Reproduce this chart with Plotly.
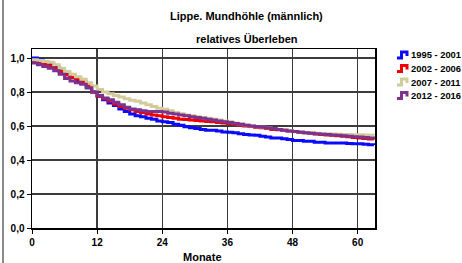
import plotly.graph_objects as go

months = list(range(64))

s_1995_2001 = [1.0, 0.99, 0.975, 0.965, 0.945, 0.925, 0.905, 0.885, 0.865, 0.85,
               0.825, 0.80, 0.775, 0.755, 0.735, 0.72, 0.70, 0.685, 0.67, 0.66,
               0.655, 0.645, 0.64, 0.63, 0.625, 0.62, 0.61, 0.605, 0.595, 0.59,
               0.585, 0.58, 0.575, 0.575, 0.57, 0.565, 0.563, 0.56, 0.555, 0.55,
               0.547, 0.545, 0.54, 0.535, 0.53, 0.53, 0.525, 0.52, 0.515, 0.515,
               0.51, 0.51, 0.505, 0.505, 0.50, 0.50, 0.50, 0.50, 0.497, 0.495,
               0.495, 0.492, 0.49, 0.488]
s_2002_2006 = [0.98, 0.975, 0.965, 0.955, 0.94, 0.92, 0.90, 0.885, 0.875, 0.86,
               0.835, 0.80, 0.775, 0.76, 0.745, 0.73, 0.715, 0.705, 0.695, 0.685,
               0.68, 0.67, 0.665, 0.66, 0.655, 0.65, 0.645, 0.64, 0.638, 0.635,
               0.632, 0.63, 0.627, 0.625, 0.62, 0.618, 0.615, 0.61, 0.605, 0.60,
               0.597, 0.593, 0.59, 0.585, 0.58, 0.578, 0.575, 0.57, 0.567, 0.563,
               0.56, 0.557, 0.553, 0.55, 0.547, 0.545, 0.542, 0.54, 0.537, 0.533,
               0.53, 0.527, 0.524, 0.52]
s_2007_2011 = [0.99, 0.985, 0.98, 0.975, 0.96, 0.94, 0.92, 0.905, 0.89, 0.875,
               0.855, 0.835, 0.815, 0.80, 0.79, 0.78, 0.77, 0.76, 0.752, 0.745,
               0.735, 0.725, 0.715, 0.705, 0.698, 0.69, 0.68, 0.672, 0.665, 0.66,
               0.655, 0.65, 0.645, 0.64, 0.635, 0.63, 0.625, 0.618, 0.612, 0.606,
               0.60, 0.597, 0.593, 0.59, 0.585, 0.58, 0.577, 0.572, 0.568, 0.565,
               0.562, 0.56, 0.558, 0.556, 0.555, 0.553, 0.552, 0.55, 0.55, 0.549,
               0.548, 0.547, 0.546, 0.545]
s_2012_2016 = [0.97, 0.96, 0.95, 0.94, 0.925, 0.905, 0.88, 0.865, 0.855, 0.845,
               0.825, 0.80, 0.78, 0.765, 0.755, 0.74, 0.725, 0.71, 0.70, 0.695,
               0.69, 0.685, 0.685, 0.685, 0.683, 0.675, 0.67, 0.665, 0.66, 0.655,
               0.65, 0.645, 0.64, 0.635, 0.63, 0.625, 0.62, 0.615, 0.61, 0.605,
               0.60, 0.597, 0.593, 0.59, 0.585, 0.58, 0.575, 0.57, 0.567, 0.563,
               0.56, 0.557, 0.555, 0.552, 0.55, 0.547, 0.545, 0.542, 0.54, 0.537,
               0.535, 0.532, 0.53, 0.527]

series_names = ["1995 - 2001", "2002 - 2006", "2007 - 2011", "2012 - 2016"]
series_values = [s_1995_2001, s_2002_2006, s_2007_2011, s_2012_2016]
series_colors = ["#0a0aff", "#f00000", "#d2cb9a", "#7e3290"]

x_ticks = [0, 12, 24, 36, 48, 60]
y_ticks = [0.0, 0.2, 0.4, 0.6, 0.8, 1.0]

W, H = 462, 263
L, R, T, B = 32, 87, 49, 35
PW = W - L - R
PH = H - T - B


def px(x):
    return (x - L) / PW


def py(y):
    return (H - B - y) / PH


FONT = "Liberation Sans, Arial, sans-serif"

fig = go.Figure()
for name, vals, col in zip(series_names, series_values, series_colors):
    fig.add_trace(go.Scatter(
        x=months, y=vals, mode="lines", name=name,
        line=dict(color=col, width=3, shape="hv"),
        showlegend=False, hoverinfo="skip"))

annotations = []
shapes = []
# titles
annotations.append(dict(text="<b>Lippe. Mundhöhle (männlich)</b>", x=px(247), y=py(16),
                        xref="paper", yref="paper", showarrow=False,
                        xanchor="center", yanchor="middle",
                        font=dict(family=FONT, size=11, color="black")))
annotations.append(dict(text="<b>relatives Überleben</b>", x=px(247), y=py(39),
                        xref="paper", yref="paper", showarrow=False,
                        xanchor="center", yanchor="middle",
                        font=dict(family=FONT, size=11, color="black")))
annotations.append(dict(text="<b>Monate</b>", x=px(202), y=py(257),
                        xref="paper", yref="paper", showarrow=False,
                        xanchor="center", yanchor="middle",
                        font=dict(family=FONT, size=11, color="black")))

# legend
leg_y = [55, 68.5, 82, 95.5]
for name, col, ly in zip(series_names, series_colors, leg_y):
    annotations.append(dict(text="<b>" + name + "</b>", x=px(409), y=py(ly),
                            xref="paper", yref="paper", showarrow=False,
                            xanchor="left", yanchor="middle",
                            font=dict(family=FONT, size=9.4, color="black")))
    path = "M{},{} L{},{} L{},{} L{},{} L{},{}".format(
        px(397), py(ly + 3), px(401.5), py(ly + 3), px(401.5), py(ly - 3),
        px(407), py(ly - 3), px(407), py(ly + 1))
    shapes.append(dict(type="path", path=path, xref="paper", yref="paper",
                       line=dict(color=col, width=3)))

# left frame line
shapes.append(dict(type="line", x0=px(3), x1=px(3), y0=py(0), y1=py(263),
                   xref="paper", yref="paper",
                   line=dict(color="#8a8a8a", width=2)))

fig.update_layout(
    width=W, height=H,
    margin=dict(l=L, r=R, t=T, b=B, pad=0),
    paper_bgcolor="white", plot_bgcolor="white",
    separators=",.",
    showlegend=False,
    annotations=annotations,
    shapes=shapes,
    font=dict(family=FONT, size=10, color="black"),
)
fig.update_xaxes(
    range=[0, 63.2], tickvals=x_ticks, ticktext=[str(v) for v in x_ticks],
    showgrid=True, gridcolor="#3c3c3c", gridwidth=1.5,
    zeroline=False, showline=True, linecolor="black", linewidth=1.5, mirror=True,
    ticks="outside", ticklen=4, tickcolor="black", tickwidth=1,
    tickfont=dict(family=FONT, size=10, color="black", weight="bold"),
)
fig.update_yaxes(
    range=[0, 1.053], tickvals=y_ticks, tickformat=".1f",
    showgrid=True, gridcolor="#3c3c3c", gridwidth=1.5,
    zeroline=False, showline=True, linecolor="black", linewidth=1.5, mirror=True,
    ticks="outside", ticklen=4, tickcolor="black", tickwidth=1,
    tickfont=dict(family=FONT, size=10, color="black", weight="bold"),
)

fig.write_html("out.html",
               config={"displayModeBar": False, "staticPlot": True},
               post_script="document.body.style.margin='0';document.body.style.overflow='hidden';")
